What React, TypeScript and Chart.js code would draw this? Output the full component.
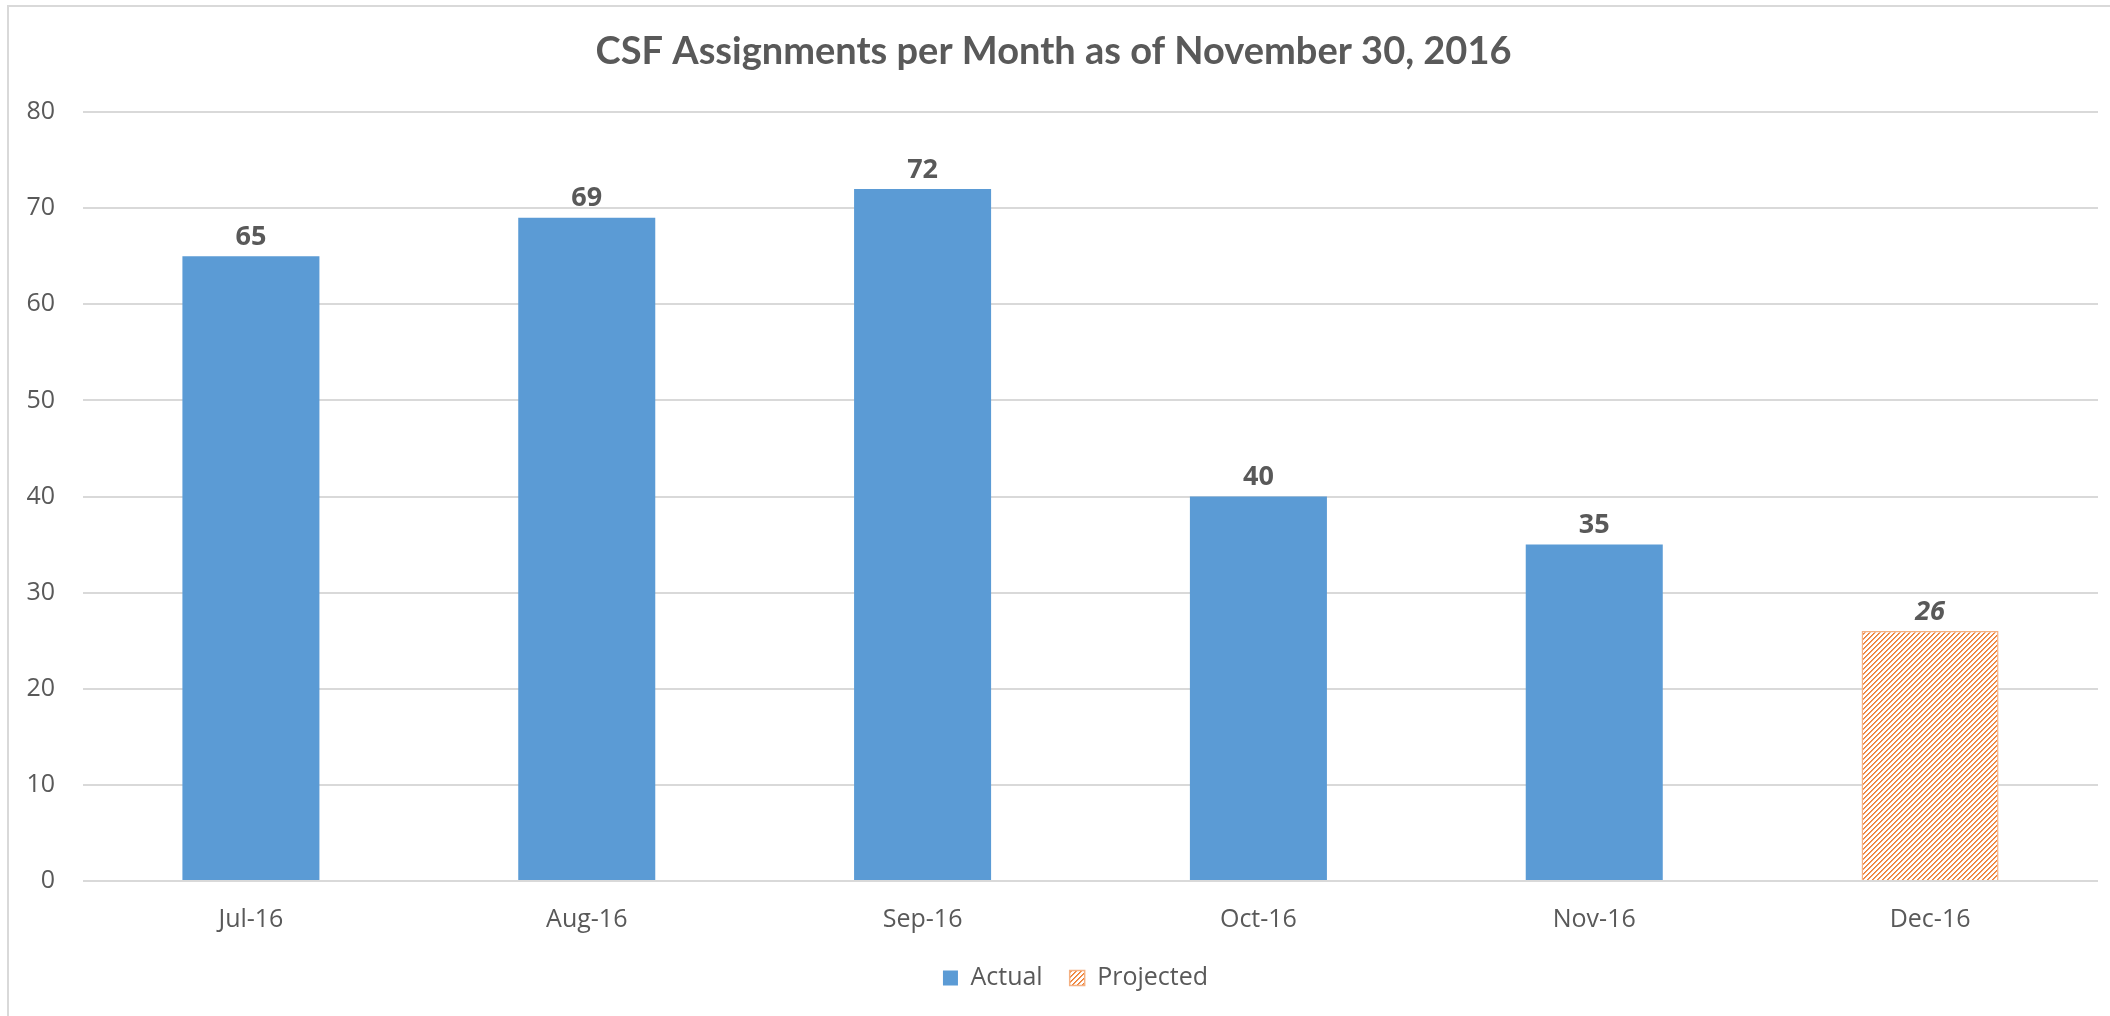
import React, { useEffect, useRef } from "react";
import { Chart, registerables } from "chart.js";

Chart.register(...registerables);

const categories = ["Jul-16", "Aug-16", "Sep-16", "Oct-16", "Nov-16", "Dec-16"];
const actualValues = [65, 69, 72, 40, 35, null];
const projectedValues = [null, null, null, null, null, 26];
const yTicks = [0, 10, 20, 30, 40, 50, 60, 70, 80];
const titleText = "CSF Assignments per Month as of November 30, 2016";

const TEXT = "#595959";
const GRID = "#D9D9D9";
const BLUE = "#5B9BD5";
const ORANGE = "#ED7D31";

function makeHatch(): CanvasPattern | string {
  const c = document.createElement("canvas");
  const n = 5;
  c.width = n;
  c.height = n;
  const ctx = c.getContext("2d");
  if (!ctx) return ORANGE;
  ctx.fillStyle = "#ffffff";
  ctx.fillRect(0, 0, n, n);
  for (let x = 0; x < n; x++) {
    for (let y = 0; y < n; y++) {
      const k = (x + y) % n;
      if (k === 0) {
        ctx.fillStyle = ORANGE;
        ctx.fillRect(x, y, 1, 1);
      } else if (k === 1) {
        ctx.fillStyle = "#F29A5E";
        ctx.fillRect(x, y, 1, 1);
      }
    }
  }
  const p = ctx.createPattern(c, "repeat");
  return p || ORANGE;
}

const valueLabels = {
  id: "valueLabels",
  afterDatasetsDraw(chart: any) {
    const ctx = chart.ctx;
    ctx.save();
    ctx.fillStyle = TEXT;
    ctx.textAlign = "center";
    ctx.textBaseline = "middle";
    chart.data.datasets.forEach((ds: any, di: number) => {
      const meta = chart.getDatasetMeta(di);
      meta.data.forEach((el: any, i: number) => {
        const v = ds.data[i];
        if (v === null || v === undefined) return;
        ctx.font = (di === 1 ? "italic " : "") + "bold 27px 'Open Sans'";
        ctx.fillText(String(v), el.x, el.y - 19);
      });
    });
    ctx.restore();
  },
};

const legendShift = {
  id: "legendShift",
  afterLayout(chart: any) {
    const lg = chart.legend;
    if (lg) {
      lg.left += 44;
    }
  },
};

export default function App() {
  const ref = useRef<HTMLCanvasElement | null>(null);

  useEffect(() => {
    if (!ref.current) return;
    const hatch = makeHatch();
    const chart = new Chart(ref.current, {
      type: "bar",
      data: {
        labels: categories,
        datasets: [
          {
            label: "Actual",
            data: actualValues,
            backgroundColor: BLUE,
            borderWidth: 0,
            barPercentage: 0.408,
            categoryPercentage: 1,
          },
          {
            label: "Projected",
            data: projectedValues,
            backgroundColor: hatch as any,
            borderColor: "#F4B183",
            borderWidth: 1.5,
            barPercentage: 0.408,
            categoryPercentage: 1,
          },
        ],
      },
      options: {
        animation: false,
        responsive: false,
        maintainAspectRatio: false,
        layout: { padding: { left: 0, right: 12, top: 0, bottom: 15.5 } },
        plugins: {
          title: {
            display: true,
            text: titleText,
            color: TEXT,
            font: { family: "Lato", size: 38, weight: "bold", lineHeight: 1.2 },
            padding: { top: 22.2, bottom: 37.2 },
          },
          legend: {
            display: true,
            position: "bottom",
            labels: {
              color: TEXT,
              font: { family: "'Open Sans'", size: 25 },
              boxWidth: 15,
              boxHeight: 15,
              padding: 27,
            },
          },
          tooltip: { enabled: false },
        },
        scales: {
          x: {
            stacked: true,
            grid: { display: false, drawTicks: false },
            border: { display: false },
            ticks: {
              color: TEXT,
              font: { family: "'Open Sans'", size: 25 },
              padding: 24,
            },
            afterFit(scale: any) {
              scale.height = 57.5;
            },
          },
          y: {
            stacked: true,
            min: 0,
            max: 80,
            afterBuildTicks(scale: any) {
              scale.ticks = yTicks.map((v) => ({ value: v }));
            },
            grid: { color: GRID, lineWidth: 2, drawTicks: false },
            border: { display: false },
            ticks: {
              color: TEXT,
              font: { family: "'Open Sans'", size: 25 },
              padding: 28,
            },
            afterFit(scale: any) {
              scale.width = 74;
            },
          },
        },
      },
      plugins: [valueLabels, legendShift],
    });
    return () => chart.destroy();
  }, []);

  return (
    <div
      style={{
        position: "fixed",
        left: 7,
        top: 5,
        right: 0,
        bottom: 0,
        borderLeft: "2px solid #D9D9D9",
        borderTop: "2px solid #D9D9D9",
        background: "#fff",
        overflow: "hidden",
      }}
    >
      <canvas ref={ref} width={2101} height={1009} style={{ display: "block", width: 2101, height: 1009 }} />
    </div>
  );
}
